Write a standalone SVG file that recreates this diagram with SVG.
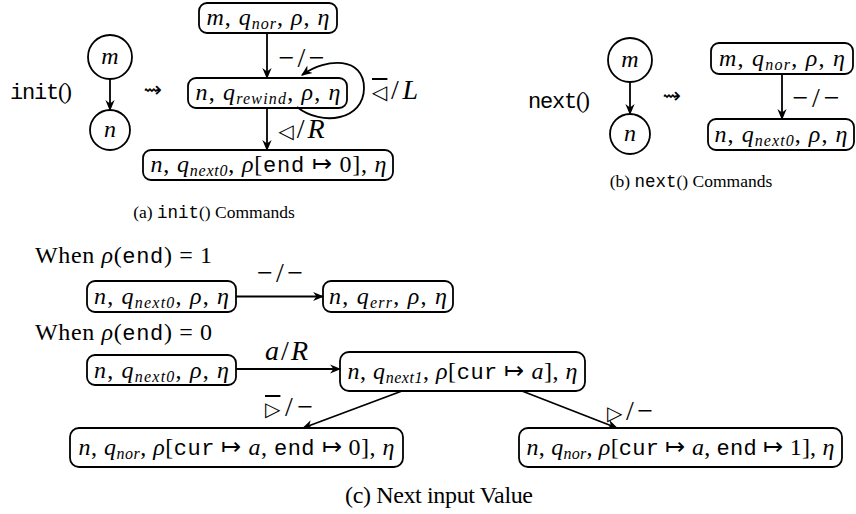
<svg xmlns="http://www.w3.org/2000/svg" width="856" height="514" viewBox="0 0 856 514">
<style>
.n{fill:#fff;stroke:#000;stroke-width:1.8}
.e{fill:none;stroke:#000;stroke-width:1.8;marker-end:url(#ah)}
text{font-family:"Liberation Serif",serif;font-size:24px;fill:#000}
.c{text-anchor:middle}
.i{font-style:italic}
.s{font-size:16px;font-style:italic}
.t{font-family:"Liberation Mono",monospace;font-size:22px}
.sym{font-family:"DejaVu Sans",sans-serif;font-size:20px}
.ov{text-decoration:overline}
.cap{font-size:17.5px}
.cap .t{font-size:17.5px}
.lbl{font-size:28px}
.arr{font-family:"DejaVu Sans",sans-serif;font-size:22px}
.big{font-size:23px}
</style>
<defs>
<marker id="ah" viewBox="0 0 10 10" refX="9" refY="5" markerWidth="11" markerHeight="11" markerUnits="userSpaceOnUse" orient="auto">
<path d="M0,0.8 L10,5 L0,9.2 L3,5 z" fill="#000"/>
</marker>
</defs>

<!-- (a) -->
<text x="10" y="99" textLength="62" class="big"><tspan class="t">init</tspan>()</text>
<text x="153" y="97" class="c arr">⇝</text>
<g id="a-m"><circle class="n" cx="110" cy="57" r="22"/><text x="110" y="64" class="c i">m</text></g>
<g id="a-n"><circle class="n" cx="110" cy="130" r="20"/><text x="110" y="137" class="c i">n</text></g>
<g id="a1"><rect class="n" x="199" y="3" width="138" height="30" rx="8"/><text x="268" y="25" class="c" textLength="123"><tspan class="i">m</tspan>, <tspan class="i">q</tspan><tspan class="s" dy="4">nor</tspan><tspan dy="-4">, </tspan><tspan class="i">ρ</tspan>, <tspan class="i">η</tspan></text></g>
<g id="a2"><rect class="n" x="188" y="78" width="159" height="30" rx="8"/><text x="268" y="100" class="c" textLength="145"><tspan class="i">n</tspan>, <tspan class="i">q</tspan><tspan class="s" dy="4">rewind</tspan><tspan dy="-4">, </tspan><tspan class="i">ρ</tspan>, <tspan class="i">η</tspan></text></g>
<g id="a3"><rect class="n" x="143" y="150" width="250" height="30" rx="8"/><text x="268.5" y="172" class="c" textLength="236"><tspan class="i">n</tspan>, <tspan class="i">q</tspan><tspan class="s" dy="4">next0</tspan><tspan dy="-4">, </tspan><tspan class="i">ρ</tspan>[<tspan class="t">end</tspan> ↦ 0], <tspan class="i">η</tspan></text></g>
<text x="214" y="218" class="c cap">(a) <tspan class="t">init</tspan>() Commands</text>

<!-- (b) -->
<text x="528" y="108" textLength="62" class="big"><tspan class="t">next</tspan>()</text>
<text x="672" y="103" class="c arr">⇝</text>
<g id="b-m"><circle class="n" cx="630" cy="60" r="22"/><text x="630" y="67" class="c i">m</text></g>
<g id="b-n"><circle class="n" cx="630" cy="134" r="20"/><text x="630" y="141" class="c i">n</text></g>
<g id="b1"><rect class="n" x="711" y="43" width="142" height="31" rx="8"/><text x="782" y="65.5" class="c" textLength="126"><tspan class="i">m</tspan>, <tspan class="i">q</tspan><tspan class="s" dy="4">nor</tspan><tspan dy="-4">, </tspan><tspan class="i">ρ</tspan>, <tspan class="i">η</tspan></text></g>
<g id="b2"><rect class="n" x="708" y="119" width="146" height="31" rx="8"/><text x="781" y="141.5" class="c" textLength="133"><tspan class="i">n</tspan>, <tspan class="i">q</tspan><tspan class="s" dy="4">next0</tspan><tspan dy="-4">, </tspan><tspan class="i">ρ</tspan>, <tspan class="i">η</tspan></text></g>
<text x="691" y="187" class="c cap">(b) <tspan class="t">next</tspan>() Commands</text>

<!-- (c) -->
<text x="35" y="263" textLength="177">When <tspan class="i">ρ</tspan>(<tspan class="t">end</tspan>) = 1</text>
<text x="35" y="340" textLength="177">When <tspan class="i">ρ</tspan>(<tspan class="t">end</tspan>) = 0</text>
<g id="c1"><rect class="n" x="87" y="281" width="149" height="31" rx="8"/><text x="161.5" y="304" class="c" textLength="135"><tspan class="i">n</tspan>, <tspan class="i">q</tspan><tspan class="s" dy="4">next0</tspan><tspan dy="-4">, </tspan><tspan class="i">ρ</tspan>, <tspan class="i">η</tspan></text></g>
<g id="c2"><rect class="n" x="323" y="281" width="130" height="31" rx="8"/><text x="388" y="304" class="c" textLength="118"><tspan class="i">n</tspan>, <tspan class="i">q</tspan><tspan class="s" dy="4">err</tspan><tspan dy="-4">, </tspan><tspan class="i">ρ</tspan>, <tspan class="i">η</tspan></text></g>
<g id="c3"><rect class="n" x="87" y="355" width="149" height="30" rx="8"/><text x="161.5" y="377.5" class="c" textLength="135"><tspan class="i">n</tspan>, <tspan class="i">q</tspan><tspan class="s" dy="4">next0</tspan><tspan dy="-4">, </tspan><tspan class="i">ρ</tspan>, <tspan class="i">η</tspan></text></g>
<g id="c4"><rect class="n" x="340" y="352" width="245" height="39" rx="9"/><text x="462.5" y="379" class="c" textLength="230"><tspan class="i">n</tspan>, <tspan class="i">q</tspan><tspan class="s" dy="4">next1</tspan><tspan dy="-4">, </tspan><tspan class="i">ρ</tspan>[<tspan class="t">cur</tspan> ↦ <tspan class="i">a</tspan>], <tspan class="i">η</tspan></text></g>
<g id="c5"><rect class="n" x="70" y="428" width="333" height="39" rx="9"/><text x="236.5" y="455" class="c" textLength="316"><tspan class="i">n</tspan>, <tspan class="i">q</tspan><tspan class="s" dy="4">nor</tspan><tspan dy="-4">, </tspan><tspan class="i">ρ</tspan>[<tspan class="t">cur</tspan> ↦ <tspan class="i">a</tspan>, <tspan class="t">end</tspan> ↦ 0], <tspan class="i">η</tspan></text></g>
<g id="c6"><rect class="n" x="519" y="428" width="323" height="39" rx="9"/><text x="680.5" y="455" class="c" textLength="308"><tspan class="i">n</tspan>, <tspan class="i">q</tspan><tspan class="s" dy="4">nor</tspan><tspan dy="-4">, </tspan><tspan class="i">ρ</tspan>[<tspan class="t">cur</tspan> ↦ <tspan class="i">a</tspan>, <tspan class="t">end</tspan> ↦ 1], <tspan class="i">η</tspan></text></g>
<text x="439" y="503" class="c" font-size="23" textLength="188">(c) Next input Value</text>

<!-- connectors -->
<g id="connectors">
<line class="e" x1="110" y1="79" x2="110" y2="110"/>
<line class="e" x1="267" y1="33" x2="267" y2="78"/>
<path class="e" d="M297,107 C322,127 364,120 364,88 C364,57 327,57 302,75"/>
<line class="e" x1="267" y1="108" x2="267" y2="150"/>
<line class="e" x1="630" y1="82" x2="630" y2="114"/>
<line class="e" x1="782" y1="74" x2="782" y2="119"/>
<line class="e" x1="236" y1="296.5" x2="323" y2="296.5"/>
<line class="e" x1="236" y1="369" x2="340" y2="369"/>
<line class="e" x1="402" y1="391" x2="303" y2="428"/>
<line class="e" x1="522" y1="391" x2="617" y2="428"/>
</g>

<!-- edge labels -->
<text x="301.5" y="67" class="c lbl" textLength="46">−/−</text>
<text x="395" y="99" class="c lbl" textLength="46"><tspan class="sym ov">◁</tspan>/<tspan class="i">L</tspan></text>
<text x="301.5" y="138" class="c lbl" textLength="46"><tspan class="sym">◁</tspan>/<tspan class="i">R</tspan></text>
<text x="816" y="107" class="c lbl" textLength="47">−/−</text>
<text x="280" y="282" class="c lbl" textLength="46">−/−</text>
<text x="286.5" y="360" class="c lbl" textLength="43"><tspan class="i">a</tspan>/<tspan class="i">R</tspan></text>
<text x="289" y="416" class="c lbl" textLength="48"><tspan class="sym ov">▷</tspan>/−</text>
<text x="630" y="420" class="c lbl" textLength="46"><tspan class="sym">▷</tspan>/−</text>
</svg>
